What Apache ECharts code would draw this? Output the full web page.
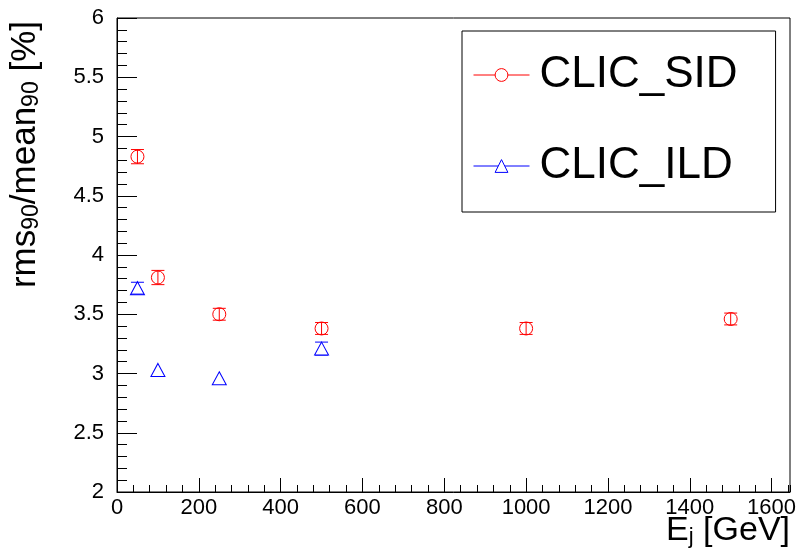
<!DOCTYPE html>
<html>
<head>
<meta charset="utf-8">
<script src="https://cdn.jsdelivr.net/npm/echarts@6/dist/echarts.min.js"></script>
<style>
html,body{margin:0;padding:0;background:#fff;}
#chart{width:802px;height:560px;}
</style>
</head>
<body>
<div id="chart"></div>
<script>
// ---- data ----
var sidEnergy = [50, 100, 250, 500, 1000, 1500];
var sidRes    = [4.83, 3.81, 3.50, 3.38, 3.38, 3.46];
var sidErr    = [0.06, 0.06, 0.05, 0.05, 0.05, 0.05];

var ildEnergy = [50, 100, 250, 500];
var ildRes    = [3.72, 3.03, 2.96, 3.21];
var ildErr    = [0.05, 0.03, 0.03, 0.055];

var seriesNames = ['CLIC_SID', 'CLIC_ILD'];
var xRange = [0, 1645];
var yRange = [2, 6];
var xMajorStep = 200, xMinorStep = 40;
var yMajorStep = 0.5;

// ---- helpers ----
function pairs(xs, ys) { return xs.map(function (x, i) { return [x, ys[i]]; }); }
function errRows(xs, ys, es) { return xs.map(function (x, i) { return [x, ys[i], es[i]]; }); }

var FONT = "'Liberation Sans', Arial, Helvetica, sans-serif";

function errorBarRenderer(color, drawStem) {
  return function (params, api) {
    var x = api.value(0), y = api.value(1), e = api.value(2);
    var c = api.coord([x, y]);
    var top = api.coord([x, y + e]);
    var bot = api.coord([x, y - e]);
    var half = 6.5;
    var children = [];
    // errors smaller than the marker are hidden by it
    if (c[1] - top[1] < 4.5) return { type: 'group', children: [] };
    var st = { stroke: color, lineWidth: 1 };
    if (drawStem) {
      children.push({ type: 'line', shape: { x1: c[0], y1: top[1], x2: c[0], y2: bot[1] }, style: st });
    }
    children.push({ type: 'line', shape: { x1: c[0] - half, y1: top[1], x2: c[0] + half, y2: top[1] }, style: st });
    children.push({ type: 'line', shape: { x1: c[0] - half, y1: bot[1], x2: c[0] + half, y2: bot[1] }, style: st });
    return { type: 'group', children: children };
  };
}

var chart = echarts.init(document.getElementById('chart'), null, { renderer: 'canvas' });

var option = {
  animation: false,
  backgroundColor: '#fff',
  grid: {
    left: 117, right: 12, top: 18, bottom: 68,
    show: true, borderColor: '#000', borderWidth: 1, backgroundColor: 'transparent',
    containLabel: false
  },
  xAxis: [{
    type: 'value', min: xRange[0], max: xRange[1], interval: xMajorStep,
    axisLine: { show: true, onZero: false, lineStyle: { color: '#000', width: 1 } },
    axisTick: { show: true, inside: true, length: 14, lineStyle: { color: '#000', width: 1 } },
    minorTick: { show: false },
    splitLine: { show: false },
    axisLabel: {
      show: true, margin: 5, color: '#000', fontSize: 22, fontFamily: FONT,
      showMaxLabel: false,
      formatter: function (v) { return String(v); }
    }
  }, {
    // minor ticks of the x axis
    type: 'value', position: 'bottom', min: xRange[0], max: xRange[1], interval: xMinorStep,
    gridIndex: 0,
    axisLine: { show: false },
    axisTick: { show: true, inside: true, length: 7, lineStyle: { color: '#000', width: 1 } },
    axisLabel: { show: false },
    splitLine: { show: false }
  }],
  yAxis: {
    type: 'value', min: yRange[0], max: yRange[1], interval: yMajorStep,
    axisLine: { show: true, onZero: false, lineStyle: { color: '#000', width: 1 } },
    axisTick: { show: true, inside: true, length: 20, lineStyle: { color: '#000', width: 1 } },
    minorTick: { show: true, splitNumber: 5, length: 10, lineStyle: { color: '#000', width: 1 } },
    splitLine: { show: false },
    axisLabel: {
      show: true, margin: 13, color: '#000', fontSize: 22, fontFamily: FONT,
      formatter: function (v) { return String(v); }
    }
  },
  legend: {
    data: seriesNames,
    orient: 'vertical',
    left: 462, top: 31,
    padding: [19, 38, 21, 11],
    itemGap: 41,
    itemWidth: 56, itemHeight: 16,
    backgroundColor: '#fff',
    borderColor: '#000', borderWidth: 1, borderRadius: 0,
    lineStyle: { opacity: 1, width: 1 },
    itemStyle: { borderWidth: 1 },
    textStyle: { color: '#000', fontSize: 44, fontFamily: FONT, lineHeight: 50, padding: [0, 0, 0, 5] },
    selectedMode: false
  },
  series: [{
    name: seriesNames[0], type: 'line',
    data: pairs(sidEnergy, sidRes),
    symbol: 'circle', symbolSize: 13,
    itemStyle: { color: '#fff', borderColor: '#ff0000', borderWidth: 1 },
    lineStyle: { color: '#ff0000', width: 1, opacity: 0 },
    z: 5
  }, {
    name: seriesNames[1], type: 'line',
    data: pairs(ildEnergy, ildRes),
    symbol: 'triangle', symbolSize: [14, 13],
    itemStyle: { color: '#fff', borderColor: '#0000ff', borderWidth: 1 },
    lineStyle: { color: '#0000ff', width: 1, opacity: 0 },
    z: 5
  }, {
    type: 'custom', name: 'sidErr',
    data: errRows(sidEnergy, sidRes, sidErr),
    renderItem: errorBarRenderer('#ff0000', true),
    encode: { x: 0, y: 1 },
    z: 6
  }, {
    type: 'custom', name: 'ildErr',
    data: errRows(ildEnergy, ildRes, ildErr),
    renderItem: errorBarRenderer('#0000ff', false),
    encode: { x: 0, y: 1 },
    z: 6
  }],
  graphic: [{
    type: 'text',
    x: 790, y: 514,
    style: {
      text: 'E{s|j} [GeV]',
      fill: '#000',
      fontSize: 34, fontFamily: FONT,
      align: 'right', verticalAlign: 'top',
      rich: {
        s: { fontSize: 22, fontFamily: FONT, fill: '#000', padding: [12, 0, 0, 0], verticalAlign: 'top' }
      }
    }
  }, {
    type: 'text',
    x: 50, y: 21,
    rotation: Math.PI / 2,
    style: {
      text: '{m|rms}{s|90}{m|/mean}{s|90}{m| [%]}',
      fill: '#000',
      fontSize: 35, fontFamily: FONT,
      align: 'right', verticalAlign: 'bottom',
      rich: {
        m: { fontSize: 35, fontFamily: FONT, fill: '#000', lineHeight: 42, verticalAlign: 'top' },
        s: { fontSize: 23, fontFamily: FONT, fill: '#000', lineHeight: 42, padding: [12, 0, 0, 0], verticalAlign: 'top' }
      }
    }
  }]
};

chart.setOption(option);
</script>
</body>
</html>
